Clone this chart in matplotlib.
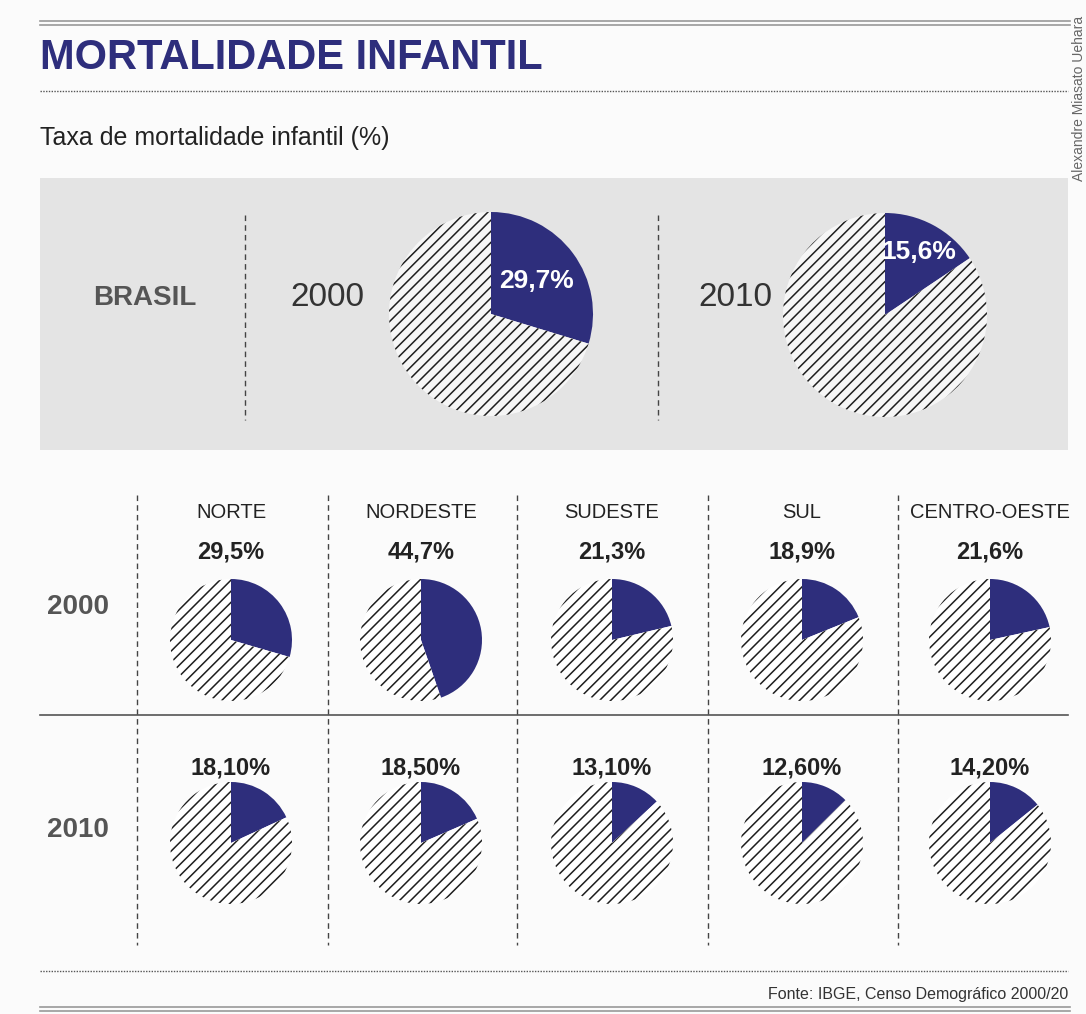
import matplotlib.pyplot as plt
from matplotlib.lines import Line2D
from matplotlib.patches import Rectangle
import numpy as np

# Data read from the infographic
regioes = ['NORTE', 'NORDESTE', 'SUDESTE', 'SUL', 'CENTRO-OESTE']
taxa_2000 = [29.5, 44.7, 21.3, 18.9, 21.6]
taxa_2010 = [18.1, 18.5, 13.1, 12.6, 14.2]
brasil_anos = ['2000', '2010']
brasil_taxa = [29.7, 15.6]

NAVY = '#2e2e7c'
W, H = 1086, 1014
plt.rcParams['font.family'] = ['Liberation Sans', 'DejaVu Sans']
plt.rcParams['hatch.linewidth'] = 1.1

fig = plt.figure(figsize=(W / 100, H / 100), dpi=100)
fig.patch.set_facecolor('#fbfbfb')
bg = fig.add_axes([0, 0, 1, 1])
bg.set_xlim(0, W)
bg.set_ylim(H, 0)
bg.axis('off')

PAD = 1.04


def pie_axes(cx, cy, r):
    r = r * PAD
    return fig.add_axes([(cx - r) / W, 1 - (cy + r) / H, 2 * r / W, 2 * r / H])


def draw_pie(cx, cy, r, val, hatch_face='white'):
    ax = pie_axes(cx, cy, r)
    wedges, _ = ax.pie([val, 100 - val], startangle=90, counterclock=False,
                       radius=1, colors=[NAVY, hatch_face],
                       wedgeprops={'linewidth': 0})
    wedges[1].set_edgecolor('#1e1e1e')
    wedges[1].set_hatch('///')
    wedges[1].set_linewidth(0)
    ax.set_xlim(-PAD, PAD)
    ax.set_ylim(-PAD, PAD)
    ax.axis('off')
    return ax, wedges


def fmt(v, nd=1):
    return f'{v:.{nd}f}%'.replace('.', ',')


# header
for y in (21, 25):
    bg.add_line(Line2D([40, 1070], [y, y], color='#999999', lw=1.2))
bg.text(40, 58, 'MORTALIDADE INFANTIL', fontsize=30, fontweight='bold',
        color=NAVY, va='center', ha='left')
bg.add_line(Line2D([40, 1068], [91, 91], color='#555555', lw=1, ls=(0, (1, 1))))
bg.text(40, 138, 'Taxa de mortalidade infantil (%)', fontsize=18, color='#222222',
        va='center', ha='left')
bg.text(1079, 98, 'Alexandre Miasato Uehara', fontsize=10, color='#666666',
        rotation=90, va='center', ha='center')

# Brasil box
bg.add_patch(Rectangle((40, 178), 1028, 272, facecolor='#e4e4e4', edgecolor='none'))
bg.text(145, 298, 'BRASIL', fontsize=20, fontweight='bold', color='#555555',
        va='center', ha='center')
for x in (245, 658):
    bg.add_line(Line2D([x, x], [215, 420], color='#444444', lw=1, ls=(0, (4, 3))))

brasil_pos = [(491, 314, 327), (885, 315, 735)]
for (cx, cy, tx), ano, val in zip(brasil_pos, brasil_anos, brasil_taxa):
    bg.text(tx, 298, ano, fontsize=24, color='#333333', va='center', ha='center')
    ax, wedges = draw_pie(cx, cy, 102, val, hatch_face='#f6f6f6')
    w = wedges[0]
    mid = np.deg2rad((w.theta1 + w.theta2) / 2)
    d = 0.55 if val > 20 else 0.7
    ax.text(d * np.cos(mid), d * np.sin(mid), fmt(val), color='white',
            fontsize=19, fontweight='bold', ha='center', va='center')

# regions grid
col_x = [231, 421, 612, 802, 990]
for x in (137, 328, 517, 708, 898):
    bg.add_line(Line2D([x, x], [495, 945], color='#444444', lw=1, ls=(0, (4, 3))))
bg.add_line(Line2D([40, 1068], [715, 715], color='#555555', lw=1.2))
bg.text(78, 607, '2000', fontsize=20, fontweight='bold', color='#555555',
        va='center', ha='center')
bg.text(78, 830, '2010', fontsize=20, fontweight='bold', color='#555555',
        va='center', ha='center')

for cx, nome, v00, v10 in zip(col_x, regioes, taxa_2000, taxa_2010):
    bg.text(cx, 513, nome, fontsize=14.5, color='#222222', va='center', ha='center')
    bg.text(cx, 552, fmt(v00), fontsize=17, fontweight='bold', color='#222222',
            va='center', ha='center')
    draw_pie(cx, 640, 61, v00)
    bg.text(cx, 768, fmt(v10, 2), fontsize=17, fontweight='bold', color='#222222',
            va='center', ha='center')
    draw_pie(cx, 843, 61, v10)

# footer
bg.add_line(Line2D([40, 1068], [971, 971], color='#555555', lw=1, ls=(0, (1, 1))))
bg.text(1068, 994, 'Fonte: IBGE, Censo Demográfico 2000/20', fontsize=11.5,
        color='#333333', va='center', ha='right')
for y in (1007, 1011):
    bg.add_line(Line2D([40, 1070], [y, y], color='#999999', lw=1.2))

plt.savefig('out.png', dpi=100)
